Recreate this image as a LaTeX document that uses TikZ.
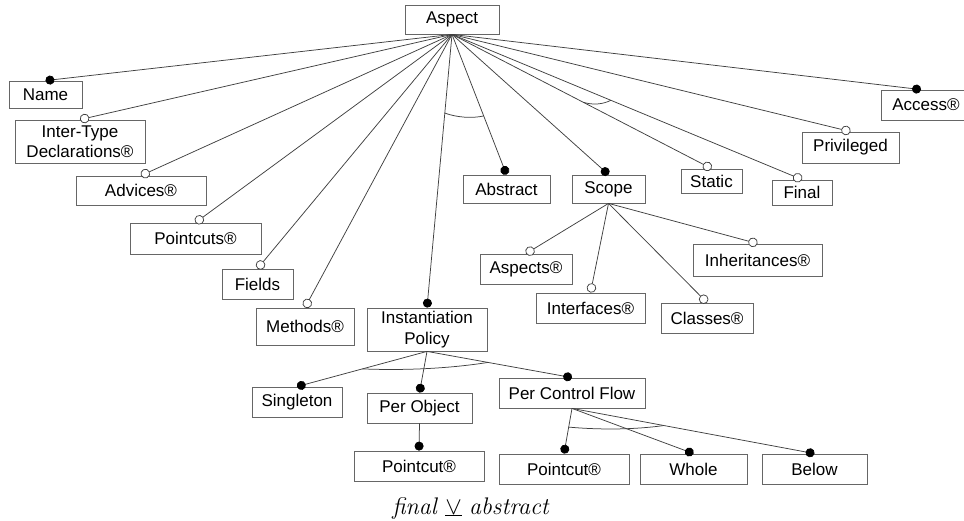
\documentclass[tikz,border=0pt]{standalone}
\usepackage{fontspec}
\newfontfamily\sans{Liberation Sans}
\usetikzlibrary{arrows.meta,calc}

\begin{document}
\begin{tikzpicture}[x=1pt,y=-1pt,
  box/.style={draw=black!60, line width=0.8pt, rectangle, inner sep=0pt,
              align=center, font=\sans\fontsize{17}{20.5}\selectfont},
  conn/.style={draw=black!75, line width=0.75pt},
  mand/.style={conn, -{Circle[length=9pt,width=9pt,color=black]}},
  opt/.style={conn, -{Circle[open,length=9.5pt,width=9.5pt,fill=white]}},
  grp/.style={draw=black!75, line width=0.75pt}]
\useasboundingbox (0,0) rectangle (964,521);

% feature nodes
\node[box, minimum width=94,  minimum height=29] (asp)  at (452,19.5)  {Aspect};
\node[box, minimum width=73,  minimum height=27] (name) at (45.5,94.5) {Name};
\node[box, minimum width=130, minimum height=43] (itd)  at (80,141.5)  {Inter-Type\\Declarations®};
\node[box, minimum width=130, minimum height=29] (adv)  at (141,190.5) {Advices®};
\node[box, minimum width=131, minimum height=31] (pcs)  at (195.5,238.5) {Pointcuts®};
\node[box, minimum width=71,  minimum height=30] (fld)  at (257.5,284) {Fields};
\node[box, minimum width=98,  minimum height=37] (mth)  at (305,326.5) {Methods®};
\node[box, minimum width=120, minimum height=43] (inst) at (427,329.5) {Instantiation\\Policy};
\node[box, minimum width=87,  minimum height=28] (abs)  at (506.5,189) {Abstract};
\node[box, minimum width=73,  minimum height=28] (scp)  at (608.5,189) {Scope};
\node[box, minimum width=61,  minimum height=24] (sta)  at (711.5,181) {Static};
\node[box, minimum width=60,  minimum height=25] (fin)  at (802,192.5) {Final};
\node[box, minimum width=97,  minimum height=31] (prv)  at (850.5,147.5) {Privileged};
\node[box, minimum width=90,  minimum height=30] (acc)  at (926,105)   {Access®};

\node[box, minimum width=92,  minimum height=30] (asps) at (526,269)   {Aspects®};
\node[box, minimum width=109, minimum height=30] (intf) at (590.5,308) {Interfaces®};
\node[box, minimum width=92,  minimum height=30] (cls)  at (707,318)   {Classes®};
\node[box, minimum width=129, minimum height=32] (inh)  at (757.5,260) {Inheritances®};

\node[box, minimum width=90,  minimum height=30] (sgl)  at (297,402)   {Singleton};
\node[box, minimum width=105, minimum height=30] (pob)  at (419.5,408) {Per Object};
\node[box, minimum width=146, minimum height=30] (pcf)  at (572,393)   {Per Control Flow};
\node[box, minimum width=130, minimum height=30] (pc1)  at (419,466)   {Pointcut®};
\node[box, minimum width=130, minimum height=30] (pc2)  at (564,469)   {Pointcut®};
\node[box, minimum width=107, minimum height=30] (whl)  at (693.5,469) {Whole};
\node[box, minimum width=105, minimum height=30] (blw)  at (814.5,469) {Below};

% connectors from Aspect
\draw[mand] (asp.south) -- (name.north);
\draw[opt]  (asp.south) -- (itd.north);
\draw[opt]  (asp.south) -- (adv.north);
\draw[opt]  (asp.south) -- (pcs.north);
\draw[opt]  (asp.south) -- (fld.north);
\draw[opt]  (asp.south) -- (mth.north);
\draw[mand] (asp.south) -- (inst.north);
\draw[mand] (asp.south) -- (abs.north);
\draw[mand] (asp.south) -- (scp.north);
\draw[opt]  (asp.south) -- (sta.north);
\draw[opt]  (asp.south) -- (fin.north);
\draw[opt]  (asp.south) -- (prv.north);
\draw[mand] (asp.south) -- ([xshift=-5pt]acc.north);

% Scope children
\draw[opt] (scp.south) -- (asps.north);
\draw[opt] (scp.south) -- (intf.north);
\draw[opt] (scp.south) -- (cls.north);
\draw[opt] (scp.south) -- (inh.north);

% Instantiation policy children
\draw[mand] (inst.south) -- (sgl.north);
\draw[mand] (inst.south) -- (pob.north);
\draw[mand] (inst.south) -- (pcf.north);
\draw[mand] (pob.south) -- (pc1.north);

% Per control flow children
\draw[mand] (pcf.south) -- (pc2.north);
\draw[mand] (pcf.south) -- (whl.north);
\draw[mand] (pcf.south) -- (blw.north);

% group arcs
\coordinate (g1a) at ($(asp.south)!79pt!(inst.north)$);
\coordinate (g1b) at ($(asp.south)!87.5pt!(abs.north)$);
\draw[grp] (g1a) .. controls ($(g1a)!0.3!(g1b)+(0,3.5)$) and ($(g1a)!0.7!(g1b)+(0,3.5)$) .. (g1b);

\coordinate (g2a) at ($(asp.south)!148pt!(sta.north)$);
\coordinate (g2b) at ($(asp.south)!172pt!(fin.north)$);
\draw[grp] (g2a) .. controls ($(g2a)!0.35!(g2b)+(0,3.5)$) and ($(g2a)!0.7!(g2b)+(0,3.5)$) .. (g2b);

\coordinate (g3a) at ($(inst.south)!67pt!(sgl.north)$);
\coordinate (g3b) at ($(inst.south)!62pt!(pcf.north)$);
\draw[grp] (g3a) .. controls ($(g3a)!0.35!(g3b)+(0,4)$) and ($(g3a)!0.7!(g3b)+(0,4)$) .. (g3b);

\coordinate (g4a) at ($(pcf.south)!19pt!(pc2.north)$);
\coordinate (g4b) at ($(pcf.south)!93.5pt!(blw.north)$);
\draw[grp] (g4a) .. controls ($(g4a)!0.35!(g4b)+(0,3.5)$) and ($(g4a)!0.7!(g4b)+(0,3.5)$) .. (g4b);

% constraint
\node[anchor=base, font=\fontsize{24}{28}\selectfont] (cons) at (471,514)
  {\textit{final} $\underline{\vee}$ \textit{abstract}};
\end{tikzpicture}
\end{document}
